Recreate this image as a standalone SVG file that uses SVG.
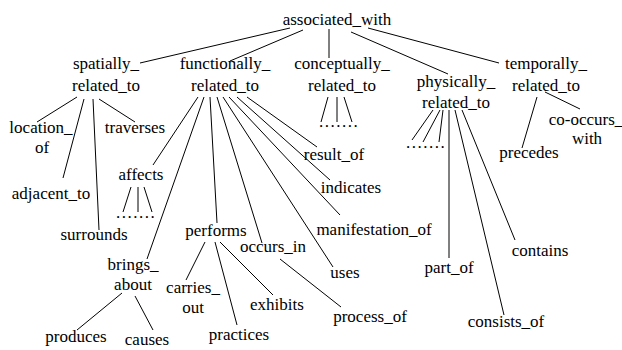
<svg xmlns="http://www.w3.org/2000/svg" width="622" height="350" viewBox="0 0 622 350">
<rect width="622" height="350" fill="#fff"/>
<g id="connectors" stroke="#000" stroke-width="1" fill="none">
<line x1="290" y1="28" x2="140" y2="63"/>
<line x1="303" y1="30" x2="230" y2="61"/>
<line x1="329" y1="29" x2="329" y2="58"/>
<line x1="351" y1="32" x2="448" y2="74"/>
<line x1="368" y1="28" x2="499" y2="63"/>
<line x1="77" y1="97" x2="37" y2="122"/>
<line x1="84" y1="99" x2="63" y2="178"/>
<line x1="93" y1="99" x2="99" y2="230"/>
<line x1="99" y1="99" x2="135" y2="122"/>
<line x1="198" y1="97" x2="153" y2="165"/>
<line x1="204" y1="97" x2="147" y2="259"/>
<line x1="210" y1="97" x2="217" y2="223"/>
<line x1="217" y1="97" x2="262" y2="243"/>
<line x1="223" y1="97" x2="333" y2="267"/>
<line x1="229" y1="97" x2="340" y2="215"/>
<line x1="237" y1="97" x2="330" y2="180"/>
<line x1="247" y1="97" x2="317" y2="147"/>
<line x1="328" y1="97" x2="321" y2="122"/>
<line x1="337" y1="97" x2="337" y2="122"/>
<line x1="344" y1="97" x2="352" y2="122"/>
<line x1="433" y1="110" x2="412" y2="140"/>
<line x1="440" y1="110" x2="423" y2="142"/>
<line x1="443" y1="110" x2="439" y2="142"/>
<line x1="449" y1="110" x2="449" y2="258"/>
<line x1="455" y1="110" x2="504" y2="315"/>
<line x1="462" y1="110" x2="515" y2="240"/>
<line x1="537" y1="97" x2="522" y2="148"/>
<line x1="545" y1="92" x2="580" y2="109"/>
<line x1="131" y1="187" x2="123" y2="212"/>
<line x1="138" y1="187" x2="138" y2="212"/>
<line x1="144" y1="187" x2="152" y2="212"/>
<line x1="205" y1="242" x2="186" y2="280"/>
<line x1="215" y1="242" x2="237" y2="325"/>
<line x1="220" y1="242" x2="273" y2="295"/>
<line x1="280" y1="259" x2="341" y2="307"/>
<line x1="122" y1="293" x2="77" y2="330"/>
<line x1="135" y1="296" x2="153" y2="330"/>
</g>
<g id="nodes" font-size="17" fill="#000" text-anchor="middle">
<g id="associated_with"><text font-family="Liberation Serif" x="337" y="25">associated_with</text></g>
<g id="spatially_related_to"><text font-family="Liberation Serif" x="106" y="69">spatially_</text><text font-family="Liberation Serif" x="106" y="91">related_to</text></g>
<g id="functionally_related_to"><text font-family="Liberation Serif" x="225" y="69">functionally_</text><text font-family="Liberation Serif" x="225" y="91">related_to</text></g>
<g id="conceptually_related_to"><text font-family="Liberation Serif" x="342" y="69">conceptually_</text><text font-family="Liberation Serif" x="342" y="91">related_to</text></g>
<g id="physically_related_to"><text font-family="Liberation Serif" x="456" y="87">physically_</text><text font-family="Liberation Serif" x="456" y="108">related_to</text></g>
<g id="temporally_related_to"><text font-family="Liberation Serif" x="546" y="69">temporally_</text><text font-family="Liberation Serif" x="546" y="91">related_to</text></g>
<g id="dots_conceptually"><text font-family="Liberation Serif" letter-spacing="1.5" x="339" y="127">.......</text></g>
<g id="dots_physically"><text font-family="Liberation Serif" letter-spacing="1.5" x="426" y="148">.......</text></g>
<g id="location_of"><text font-family="Liberation Serif" x="41" y="133">location_</text><text font-family="Liberation Serif" x="42" y="153">of</text></g>
<g id="traverses"><text font-family="Liberation Serif" x="135" y="133">traverses</text></g>
<g id="adjacent_to"><text font-family="Liberation Serif" x="51" y="199">adjacent_to</text></g>
<g id="surrounds"><text font-family="Liberation Serif" x="94" y="240">surrounds</text></g>
<g id="affects"><text font-family="Liberation Serif" x="141" y="180">affects</text></g>
<g id="dots_affects"><text font-family="Liberation Serif" letter-spacing="1.5" x="136" y="218">.......</text></g>
<g id="brings_about"><text font-family="Liberation Serif" x="133" y="270">brings_</text><text font-family="Liberation Serif" x="133" y="290">about</text></g>
<g id="performs"><text font-family="Liberation Serif" x="216" y="236">performs</text></g>
<g id="occurs_in"><text font-family="Liberation Serif" x="273" y="252">occurs_in</text></g>
<g id="uses"><text font-family="Liberation Serif" x="345" y="278">uses</text></g>
<g id="manifestation_of"><text font-family="Liberation Serif" x="374" y="235">manifestation_of</text></g>
<g id="indicates"><text font-family="Liberation Serif" x="351" y="193">indicates</text></g>
<g id="result_of"><text font-family="Liberation Serif" x="334" y="160">result_of</text></g>
<g id="carries_out"><text font-family="Liberation Serif" x="193" y="293">carries_</text><text font-family="Liberation Serif" x="193" y="313">out</text></g>
<g id="practices"><text font-family="Liberation Serif" x="239" y="340">practices</text></g>
<g id="exhibits"><text font-family="Liberation Serif" x="277" y="310">exhibits</text></g>
<g id="process_of"><text font-family="Liberation Serif" x="370" y="322">process_of</text></g>
<g id="produces"><text font-family="Liberation Serif" x="76" y="342">produces</text></g>
<g id="causes"><text font-family="Liberation Serif" x="147" y="345">causes</text></g>
<g id="part_of"><text font-family="Liberation Serif" x="449" y="273">part_of</text></g>
<g id="consists_of"><text font-family="Liberation Serif" x="506" y="327">consists_of</text></g>
<g id="contains"><text font-family="Liberation Serif" x="540" y="256">contains</text></g>
<g id="precedes"><text font-family="Liberation Serif" x="529" y="158">precedes</text></g>
<g id="co-occurs_with"><text font-family="Liberation Serif" x="586" y="125">co-occurs_</text><text font-family="Liberation Serif" x="587" y="144">with</text></g>
</g>
</svg>
